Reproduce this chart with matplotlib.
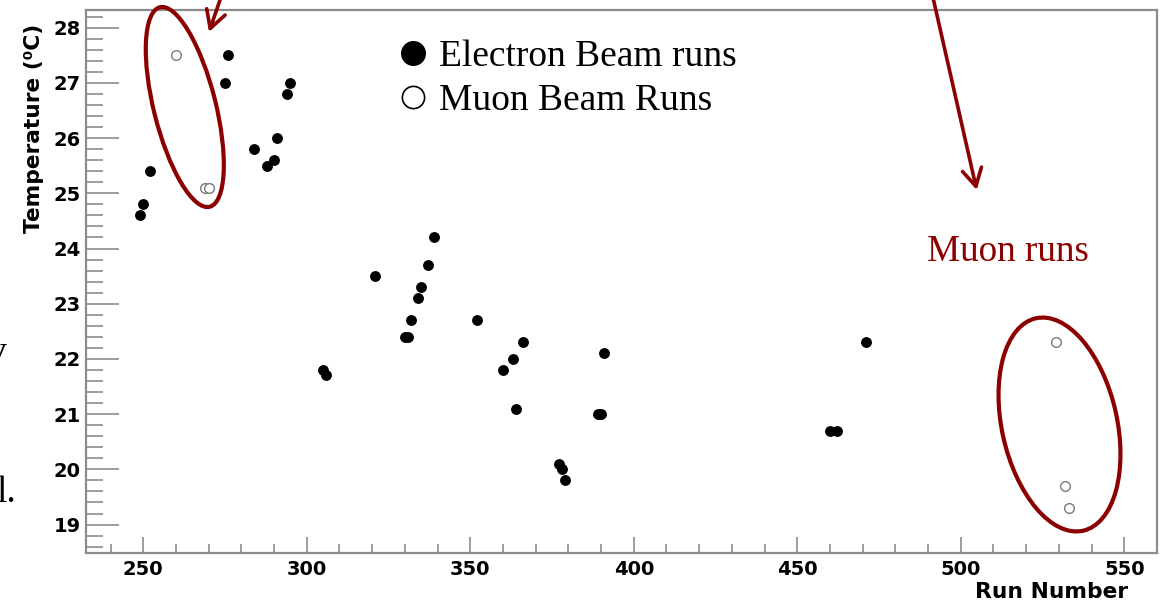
import matplotlib.pyplot as plt
from matplotlib.lines import Line2D
from matplotlib.patches import Ellipse
from matplotlib.ticker import MultipleLocator

# run number vs. temperature for the electron and muon beam runs
electron_run = [249, 250, 252, 275, 276, 284, 288, 290, 291, 294, 295,
                305, 306, 321, 339, 337, 335, 334, 332, 330, 331, 352,
                366, 363, 360, 364, 391, 389, 390, 377, 378, 379, 460,
                462, 471]
electron_temp = [24.6, 24.8, 25.4, 27.0, 27.5, 25.8, 25.5, 25.6, 26.0, 26.8, 27.0,
                 21.8, 21.7, 23.5, 24.2, 23.7, 23.3, 23.1, 22.7, 22.4, 22.4, 22.7,
                 22.3, 22.0, 21.8, 21.1, 22.1, 21.0, 21.0, 20.1, 20.0, 19.8, 20.7,
                 20.7, 22.3]
muon_run = [260, 269, 270, 529, 532, 533]
muon_temp = [27.5, 25.1, 25.1, 22.3, 19.7, 19.3]

x_ticks = [250, 300, 350, 400, 450, 500, 550]
y_ticks = [19, 20, 21, 22, 23, 24, 25, 26, 27, 28]
legend_labels = ["Electron Beam runs", "Muon Beam Runs"]

W, H = 1163, 608
dark_red = "#8b0000"
frame_grey = "#8c8c8c"
serif = "Liberation Serif"

plt.rcParams["font.family"] = "DejaVu Sans"
plt.rcParams["font.weight"] = "bold"

fig = plt.figure(figsize=(W / 100, H / 100), dpi=100)
ax = fig.add_axes([86 / W, (H - 552.7) / H, (1157 - 86) / W, (552.7 - 10) / H])

ax.plot(electron_run, electron_temp, "o", ms=6.8, color="black", mec="black")
ax.plot(muon_run, muon_temp, "o", ms=7, mfc="white", mec="#7a7a7a", mew=1.0)

ax.set_xlim(232.5, 560)
ax.set_ylim(18.49, 28.32)
ax.set_xticks(x_ticks)
ax.set_yticks(y_ticks)
ax.xaxis.set_minor_locator(MultipleLocator(10))
ax.yaxis.set_minor_locator(MultipleLocator(0.2))

for s in ax.spines.values():
    s.set_color(frame_grey)
    s.set_linewidth(1.6)

ax.tick_params(axis="both", which="both", direction="in", color=frame_grey,
               width=1.2, top=False, right=False)
ax.tick_params(axis="y", which="major", length=23.8, labelsize=14, pad=4)
ax.tick_params(axis="y", which="minor", length=12.2)
ax.tick_params(axis="x", which="major", length=11.5, labelsize=14, pad=5)
ax.tick_params(axis="x", which="minor", length=6.5)

ax.set_xlabel("Run Number", fontsize=15.7, fontweight="bold", loc="right")
ax.xaxis.set_label_coords(0.973, -0.054)
ax.set_ylabel("Temperature (\u2070C)", fontsize=15.7, fontweight="bold", loc="top")
ax.yaxis.set_label_coords(-0.0392, 0.974)

handles = [
    Line2D([], [], marker="o", ls="none", ms=17, mfc="black", mec="black"),
    Line2D([], [], marker="o", ls="none", ms=16, mfc="white", mec="black", mew=1.2),
]
ax.legend(handles, legend_labels, loc="upper left",
          bbox_to_anchor=(400 / W, 1 - 40 / H), bbox_transform=fig.transFigure,
          frameon=False, prop={"family": serif, "size": 27, "weight": "normal"},
          handlelength=0.7, handletextpad=0.35, labelspacing=0.24,
          borderpad=0, borderaxespad=0)

# annotation layer in pixel units over the whole figure
over = fig.add_axes([0, 0, 1, 1], zorder=5)
over.set_xlim(0, W)
over.set_ylim(H, 0)
over.axis("off")

over.add_patch(Ellipse((184.8, 107), 205.6, 62, angle=76, fill=False,
                       ec=dark_red, lw=3, clip_on=False))
over.add_patch(Ellipse((1059.5, 424.5), 217.6, 115.2, angle=77.5, fill=False,
                       ec=dark_red, lw=3, clip_on=False))

arrow = dict(arrowstyle="->,head_length=1.26,head_width=0.7", color=dark_red,
             lw=2.6, mutation_scale=10, shrinkA=0, shrinkB=0)
over.annotate("", xy=(209, 32), xytext=(225.5, -16), arrowprops=arrow,
              annotation_clip=False)
over.annotate("", xy=(976.7, 190), xytext=(929, -20), arrowprops=arrow,
              annotation_clip=False)

over.text(1008, 261, "Muon runs", color=dark_red, family=serif, fontsize=26.7,
          fontweight="normal", ha="center", va="baseline")

# leftover slide text cut at the left edge
over.text(7, 362, "v", family=serif, fontsize=27, fontweight="normal",
          ha="right", va="baseline")
over.text(16, 502, "l.", family=serif, fontsize=27, fontweight="normal",
          ha="right", va="baseline")

fig.savefig("out.png", dpi=100)
